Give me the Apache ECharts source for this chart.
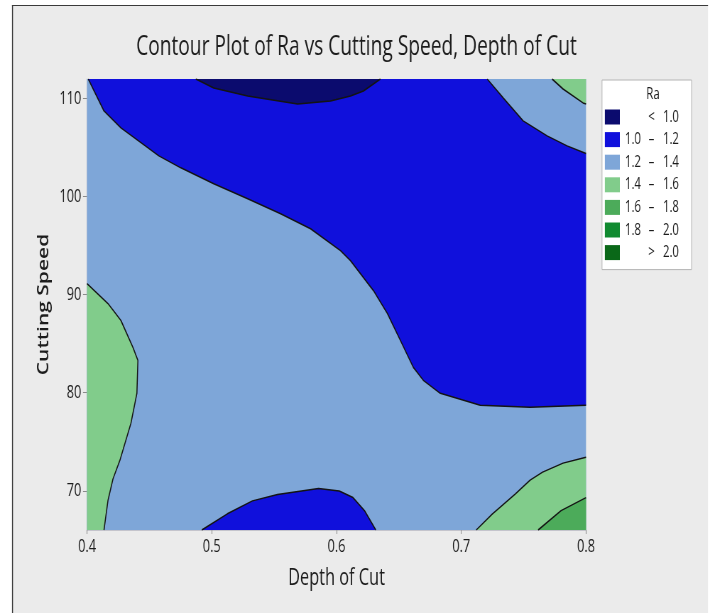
<!DOCTYPE html>
<html>
<head>
<meta charset="utf-8">
<script src="https://cdn.jsdelivr.net/npm/echarts@6/dist/echarts.min.js"></script>
<style>
  html, body { margin: 0; padding: 0; background: #ffffff; overflow: hidden; width: 713px; height: 615px; }
  /* the figure is laid out wide and then narrowed horizontally */
  #chart { width: 1004px; height: 615px; transform: scaleX(0.71); transform-origin: 0 0; }
</style>
</head>
<body>
<div id="chart"></div>
<script>
// Axis ranges and ticks
const depthRange = [0.4, 0.8];
const speedRange = [66, 112];
const depthTicks = [0.4, 0.5, 0.6, 0.7, 0.8];
const speedTicks = [70, 80, 90, 100, 110];

// Ra bands shown in the key
const levelNames = ['< 1.0', '1.0 – 1.2', '1.2 – 1.4', '1.4 – 1.6', '1.6 – 1.8', '1.8 – 2.0', '> 2.0'];

// Contour lines of Ra, as [depth of cut, cutting speed] points
const ra10Top = [[0.4872, 112], [0.5016, 111.08], [0.5288, 110.27], [0.5688, 109.46], [0.5952, 109.76], [0.6112, 110.27], [0.6216, 110.78], [0.6352, 112]];
const ra12Upper = [[0.401, 112], [0.4136, 108.74], [0.4272, 107.01], [0.4576, 104.16], [0.4752, 102.94], [0.5016, 101.31], [0.5288, 99.79], [0.5552, 98.26], [0.5792, 96.73], [0.6032, 94.5], [0.6112, 93.48], [0.6296, 90.42], [0.6408, 88.08], [0.6512, 85.34], [0.6616, 82.59], [0.6696, 81.27], [0.6832, 79.94], [0.7152, 78.72], [0.7552, 78.52], [0.8, 78.72]];
const ra12TopRight = [[0.7208, 112], [0.7336, 110.07], [0.7496, 107.73], [0.7688, 106.2], [0.7848, 105.18], [0.8, 104.4]];
const ra12Bottom = [[0.492, 66], [0.5125, 67.65], [0.5326, 68.97], [0.5527, 69.63], [0.5856, 70.23], [0.6022, 69.97], [0.6132, 69.31], [0.6224, 67.98], [0.6315, 66]];
const ra14Left = [[0.4, 91.14], [0.4168, 89.1], [0.4272, 87.37], [0.4368, 84.62], [0.4408, 83.3], [0.44, 79.94], [0.4352, 76.89], [0.4264, 73.12], [0.4208, 71.2], [0.4168, 69.0], [0.4136, 66]];
const ra14TopRight = [[0.7728, 112], [0.7816, 110.98], [0.7976, 109.56], [0.8, 109.46]];
const ra14BottomRight = [[0.712, 66], [0.7248, 67.63], [0.7432, 69.66], [0.7552, 71.09], [0.7652, 71.9], [0.7816, 72.82], [0.8, 73.43]];
const ra16BottomRight = [[0.7616, 66], [0.78, 67.98], [0.8, 69.3]];

// Horizontal narrowing applied to the whole figure (see the CSS above)
const SQUEEZE = 0.71;
function px(x) { return x / SQUEEZE; }

const FONT = "'Open Sans', 'Noto Sans', sans-serif";
const TEXT = '#1c1c1c';

// Closed regions built from the contour lines and the plot corners
const plotRect = [[depthRange[0], speedRange[0]], [depthRange[1], speedRange[0]], [depthRange[1], speedRange[1]], [depthRange[0], speedRange[1]]];
const upperBlue = ra12Upper.concat(ra12TopRight.slice().reverse());
const leftGreen = ra14Left.concat([[depthRange[0], speedRange[0]]]);
const topRightGreen = ra14TopRight.concat([[depthRange[1], speedRange[1]]]);
const bottomRightGreen = ra14BottomRight.concat([[depthRange[1], speedRange[0]]]);
const bottomRightGreen2 = ra16BottomRight.concat([[depthRange[1], speedRange[0]]]);

// Drawing order: lower bands first, so enclosed bands sit on top
const bands = [
  { name: levelNames[2], color: '#7ea6d8', polys: [plotRect] },
  { name: levelNames[1], color: '#1010dc', polys: [upperBlue, ra12Bottom] },
  { name: levelNames[0], color: '#0b0b6e', polys: [ra10Top] },
  { name: levelNames[3], color: '#81cc8b', polys: [leftGreen, topRightGreen, bottomRightGreen] },
  { name: levelNames[4], color: '#4cab5a', polys: [bottomRightGreen2] },
  { name: levelNames[5], color: '#108a30', polys: [] },
  { name: levelNames[6], color: '#0a6818', polys: [] }
];

const contourLines = [ra10Top, ra12Upper, ra12TopRight, ra12Bottom, ra14Left, ra14TopRight, ra14BottomRight, ra16BottomRight];

const bandSeries = bands.map(function (band) {
  return {
    type: 'custom',
    name: band.name,
    silent: true,
    clip: true,
    itemStyle: { color: band.color },
    data: band.polys.map(function (p, i) { return [p[0][0], p[0][1], i]; }),
    renderItem: function (params, api) {
      const poly = band.polys[params.dataIndex];
      return {
        type: 'polygon',
        shape: { points: poly.map(function (pt) { return api.coord(pt); }) },
        style: { fill: band.color, stroke: null }
      };
    },
    z: 2
  };
});

const lineSeries = contourLines.map(function (pts) {
  return {
    type: 'line',
    data: pts,
    showSymbol: false,
    silent: true,
    clip: true,
    lineStyle: { color: '#141414', width: 1.5 },
    z: 3
  };
});

function legendLabel(name) {
  const parts = name.split(' ');
  if (parts.length === 2) return '{a|}{b|' + parts[0] + '}{c|' + parts[1] + '}';
  return '{a|' + parts[0] + '}{b|' + parts[1] + '}{c|' + parts[2] + '}';
}

const legendText = { fontFamily: FONT, fontSize: 16, color: TEXT, lineHeight: 15 };

const option = {
  backgroundColor: '#ffffff',
  animation: false,
  title: {
    text: 'Contour Plot of Ra vs Cutting Speed, Depth of Cut',
    left: 'center',
    top: 29,
    textStyle: { fontFamily: FONT, fontSize: 27, fontWeight: 'normal', color: TEXT }
  },
  graphic: [
    { type: 'rect', z: -10, silent: true, shape: { x: px(12), y: 5, width: px(708) - px(12), height: 608 }, style: { fill: '#ebebeb' } },
    { type: 'line', z: -9, silent: true, shape: { x1: px(12), y1: 5.5, x2: px(708), y2: 5.5 }, style: { stroke: '#3a3a3a', lineWidth: 1 } },
    { type: 'line', z: -9, silent: true, shape: { x1: px(12.5), y1: 5, x2: px(12.5), y2: 613 }, style: { stroke: '#3a3a3a', lineWidth: px(1) } },
    { type: 'text', z: 100, silent: true, x: px(653), y: 94, style: { text: 'Ra', fontFamily: FONT, fontSize: 16, fill: TEXT, align: 'center', verticalAlign: 'middle' } }
  ],
  grid: { left: px(87), right: 1004 - px(586), top: 79, bottom: 85, containLabel: false },
  legend: {
    data: levelNames,
    orient: 'vertical',
    left: px(602),
    top: 80,
    icon: 'rect',
    itemWidth: px(15),
    itemHeight: 15,
    itemGap: 6.6,
    selectedMode: false,
    backgroundColor: '#ffffff',
    borderColor: '#b4b4b4',
    borderWidth: 1,
    padding: [29, 14, 9, 4],
    formatter: legendLabel,
    textStyle: Object.assign({}, legendText, {
      rich: {
        a: Object.assign({ width: 27, align: 'right' }, legendText),
        b: Object.assign({ width: 25, align: 'center' }, legendText),
        c: Object.assign({ width: 30, align: 'left' }, legendText)
      }
    })
  },
  xAxis: {
    type: 'value',
    min: depthRange[0],
    max: depthRange[1],
    name: 'Depth of Cut',
    nameLocation: 'middle',
    nameGap: 37,
    nameTextStyle: { fontFamily: FONT, fontSize: 23, color: TEXT },
    axisLine: { show: true, lineStyle: { color: '#c4c4cc' } },
    axisTick: { show: true, length: 4, lineStyle: { color: '#8a8a8a' }, customValues: depthTicks },
    axisLabel: { customValues: depthTicks, margin: 8, fontFamily: FONT, fontSize: 18, color: TEXT, formatter: function (v) { return v.toFixed(1); } },
    splitLine: { show: false }
  },
  yAxis: {
    type: 'value',
    min: speedRange[0],
    max: speedRange[1],
    name: 'Cutting Speed',
    nameLocation: 'middle',
    nameGap: 45,
    nameTextStyle: { fontFamily: FONT, fontSize: 21, fontWeight: 600, color: TEXT },
    axisLine: { show: true, lineStyle: { color: '#c4c4cc' } },
    axisTick: { show: true, length: px(4), lineStyle: { color: '#8a8a8a' }, customValues: speedTicks },
    axisLabel: { customValues: speedTicks, margin: 8, fontFamily: FONT, fontSize: 18, color: TEXT },
    splitLine: { show: false }
  },
  series: bandSeries.concat(lineSeries)
};

const chart = echarts.init(document.getElementById('chart'), null, { renderer: 'canvas' });
chart.setOption(option);
</script>
</body>
</html>
